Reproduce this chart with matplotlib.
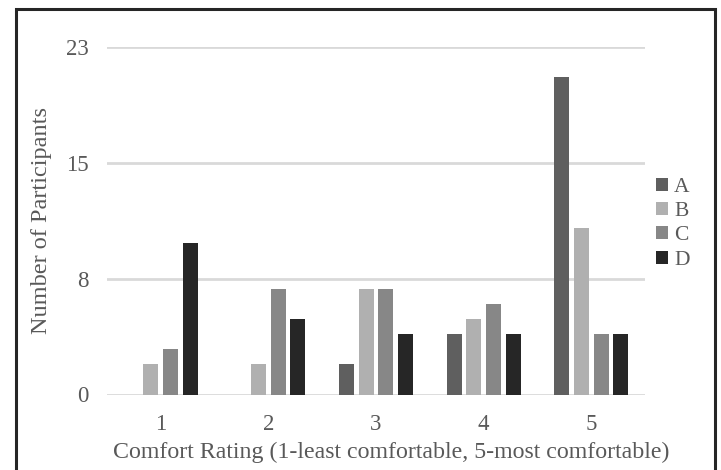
import matplotlib
matplotlib.use('Agg')
import matplotlib.pyplot as plt
from matplotlib.patches import Rectangle
import numpy as np

ratings = ['1', '2', '3', '4', '5']
series = ['A', 'B', 'C', 'D']
A = [0, 0, 2, 4, 21]
B = [2, 2, 7, 5, 11]
C = [3, 7, 7, 6, 4]
D = [10, 5, 4, 4, 4]
yticks = [0, 23 / 3, 46 / 3, 23]
ytick_labels = ['0', '8', '15', '23']

COLORS = ['#5f5f5f', '#b0b0b0', '#878787', '#262626']
TXT = '#595959'
GRID = '#d9d9d9'
plt.rcParams.update({'font.family': 'Liberation Serif', 'font.size': 16})

fig = plt.figure(figsize=(7.21, 4.70), dpi=100)
ax = fig.add_axes([107 / 721, 1 - 394.5 / 470, 538 / 721, 347.5 / 470])

x = np.arange(1, len(ratings) + 1)
step, width = 0.183, 0.139
for i, (vals, name) in enumerate(zip([A, B, C, D], series)):
    ax.bar(x + (i - 1.5) * step, vals, width=width, color=COLORS[i], label=name,
           zorder=3, edgecolor='none')

ax.set_xlim(0.5, 5.5)
ax.set_ylim(0, 23)
ax.set_yticks(yticks)
ax.set_yticklabels(ytick_labels)
ax.set_xticks(x)
ax.set_xticklabels(ratings)
ax.grid(axis='y', color=GRID, lw=2, zorder=0)
for s in ax.spines.values():
    s.set_visible(False)
ax.tick_params(length=0, colors=TXT, labelsize=16.5)
ax.tick_params(axis='y', pad=13)
ax.tick_params(axis='x', pad=14)
ax.set_xlabel('Comfort Rating (1-least comfortable, 5-most comfortable)', color=TXT,
              fontsize=17.2, labelpad=5, x=0.528)
ax.set_ylabel('Number of Participants', color=TXT, fontsize=17.5, labelpad=10)

leg = ax.legend(loc='upper left', bbox_to_anchor=(645 / 721, 1 - 167 / 470),
                bbox_transform=fig.transFigure, frameon=False, fontsize=15.5,
                handlelength=0.55, handleheight=0.55, handletextpad=0.3,
                labelspacing=0.24, borderpad=0)
for t in leg.get_texts():
    t.set_color(TXT)

fig.patches.append(Rectangle((16 / 721, -0.05), 699 / 721, 1.05 - 9 / 470,
                             transform=fig.transFigure, fill=False,
                             edgecolor='#262626', lw=2.2))
fig.savefig('out.png', facecolor='white')
